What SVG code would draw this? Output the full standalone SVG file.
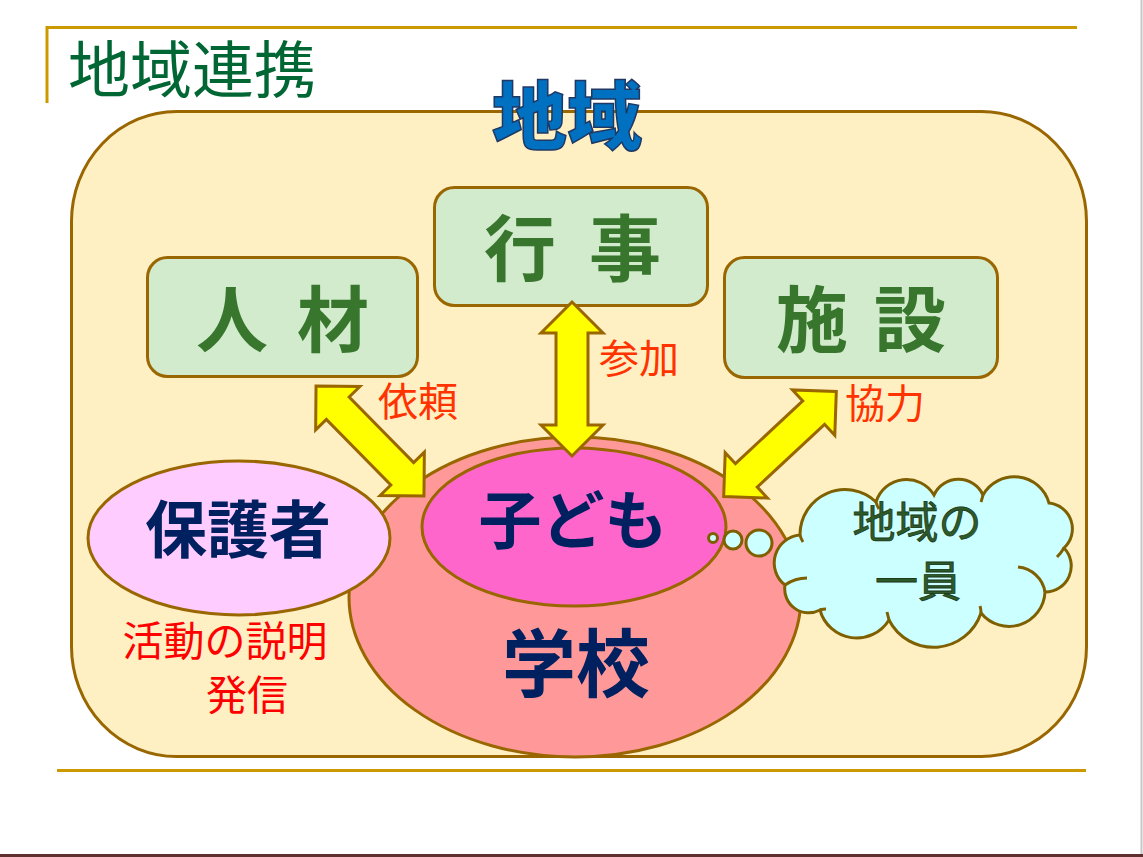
<svg xmlns="http://www.w3.org/2000/svg" width="1143" height="857" viewBox="0 0 1143 857">
<style>
.jp{font-family:"Noto Sans CJK JP","Noto Sans CJK SC",sans-serif}
.box{fill:#D1EBCC;stroke:#996600;stroke-width:3}
.boxt{font-weight:700;font-size:72px;fill:#38762E;text-anchor:middle}
.navy{font-weight:700;fill:#002060;text-anchor:middle}
.lbl{font-size:40px;fill:#FF3300}
.arrow{fill:#FFFF00;stroke:#996600;stroke-width:3;stroke-linejoin:miter}
.line{stroke:#CC9900;stroke-width:3;fill:none}
.cl{fill:#CCFFFF;stroke:#7F6000;stroke-width:3}
</style>
<defs>
<polygon id="dblarrow" points="-77,0 -46,-31 -46,-16 46,-16 46,-31 77,0 46,31 46,16 -46,16 -46,31"/>
</defs>
<rect width="1143" height="857" fill="#FFFFFF"/>
<line x1="1141.5" y1="0" x2="1141.5" y2="855" stroke="#C8C8C8" stroke-width="2"/>
<line x1="0" y1="855.5" x2="1143" y2="855.5" stroke="#603030" stroke-width="3"/>

<g id="title">
<path class="line" d="M47,103 V27.5 H1077"/>
<text class="jp" x="68" y="93" font-size="62" fill="#006633">地域連携</text>
</g>
<line class="line" x1="57" y1="770.5" x2="1086" y2="770.5"/>

<g id="region">
<rect x="71.5" y="111.5" width="1015" height="645" rx="105" ry="110" fill="#FFF0C4" stroke="#996600" stroke-width="3"/>
<text class="jp" x="567" y="144" font-size="75" font-weight="900" fill="#0070C0" stroke="#1F3864" stroke-width="1.5" text-anchor="middle">地域</text>
</g>

<g id="jinzai">
<rect class="box" x="147.5" y="257.5" width="270" height="119" rx="20"/>
<text class="jp boxt" y="346"><tspan x="232">人</tspan><tspan x="333">材</tspan></text>
</g>
<g id="gyoji">
<rect class="box" x="434.5" y="187.5" width="273" height="118" rx="20"/>
<text class="jp boxt" y="275"><tspan x="520">行</tspan><tspan x="625">事</tspan></text>
</g>
<g id="shisetsu">
<rect class="box" x="724.5" y="257.5" width="273" height="120" rx="20"/>
<text class="jp boxt" y="346"><tspan x="812">施</tspan><tspan x="910">設</tspan></text>
</g>

<g id="gakko">
<ellipse cx="575" cy="597" rx="226" ry="160" fill="#FF9999" stroke="#996600" stroke-width="3"/>
<text class="jp navy" x="576" y="691" font-size="74">学校</text>
</g>
<g id="hogosha">
<ellipse cx="239" cy="538" rx="151" ry="77" fill="#FFCCFF" stroke="#996600" stroke-width="3"/>
<text class="jp navy" x="238" y="553" font-size="62">保護者</text>
</g>
<g id="kodomo">
<ellipse cx="574" cy="527" rx="152" ry="79" fill="#FF66CC" stroke="#996600" stroke-width="3"/>
<text class="jp navy" x="573" y="543" font-size="63">子ども</text>
</g>

<g id="connectors">
<use href="#dblarrow" class="arrow" transform="translate(572,379) rotate(90)"/>
<use href="#dblarrow" class="arrow" transform="translate(370,441) rotate(45.5)"/>
<use href="#dblarrow" class="arrow" transform="translate(780,444) rotate(137)"/>
<text class="jp lbl" x="378" y="416">依頼</text>
<text class="jp lbl" x="599" y="373">参加</text>
<text class="jp lbl" x="845" y="418">協力</text>
</g>

<g id="setsumei">
<text class="jp" font-size="41" fill="#FF0000" text-anchor="middle"><tspan x="225" y="656">活動の説明</tspan><tspan x="247" y="710">発信</tspan></text>
</g>

<g id="cloud">
<circle class="cl" cx="713" cy="538" r="4.5" stroke-width="2.5"/>
<circle class="cl" cx="733" cy="540" r="9" stroke-width="2.5"/>
<circle class="cl" cx="759" cy="543" r="13" stroke-width="2.5"/>
<path class="cl" d="M785,585 A28,28 0 0 1 800,535 A45,45 0 0 1 876,502 A32,32 0 0 1 934,495 A27,27 0 0 1 983,495 A36,36 0 0 1 1049,503 A26,26 0 0 1 1064,548 A26,26 0 0 1 1045,592 A36,36 0 0 1 981,613 A50,50 0 0 1 889,620 A38,38 0 0 1 820,610 A24,24 0 0 1 785,585 Z"/>
<path d="M800,535 Q801,539 803,542 M876,502 Q877,506 879,509 M983,495 Q982,499 981,502 M1064,548 Q1061,553 1057,557 M1018,567 A30,30 0 0 1 1045,592 M981,613 Q981,609 980,606 M889,620 Q888,616 887,612 M820,610 Q823,609 826,609 M785,585 Q795,578 807,578" fill="none" stroke="#7F6000" stroke-width="3"/>
<text class="jp" font-size="43" fill="#2E5A2A" stroke="#1A3A1A" stroke-width="0.8" text-anchor="middle"><tspan x="917" y="538">地域の</tspan><tspan x="918" y="597">一員</tspan></text>
</g>
</svg>
